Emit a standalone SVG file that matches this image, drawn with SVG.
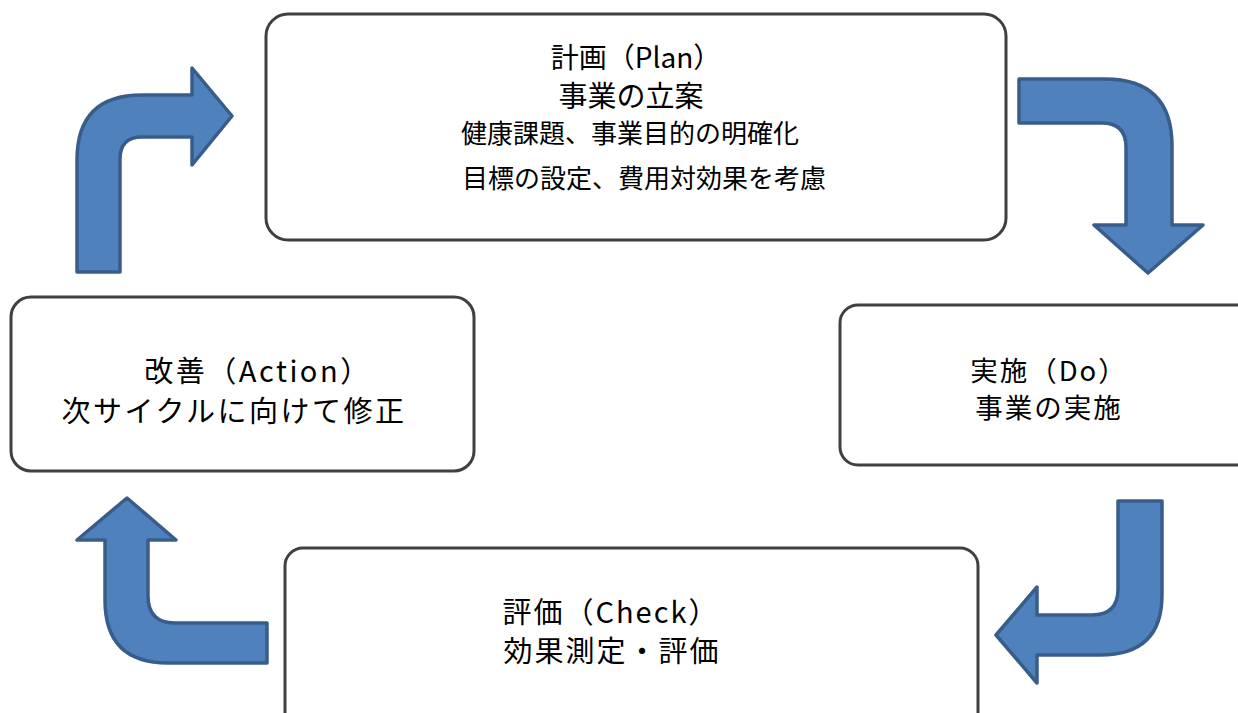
<svg xmlns="http://www.w3.org/2000/svg" width="1238" height="713" viewBox="0 0 1238 713">
<style>
.box{fill:#fff;stroke:#404040;stroke-width:3}
.arr{fill:#4F81BD;stroke:#385D8A;stroke-width:3.5;stroke-linejoin:round}
text{font-family:"Noto Sans CJK JP","Noto Sans",sans-serif;fill:#000;text-anchor:middle}
</style>
<rect width="1238" height="713" fill="#fff"/>
<g id="connectors">
<path class="arr" d="M77,272 L77,160 Q77,95 142,95 L192,95 L192,68 L232,116 L192,165 L192,137 L142,137 Q120,137 120,159 L120,272 Z"/>
<path class="arr" d="M1019,79 L1105,79 Q1172,79 1172,146 L1172,225 L1203,225 L1148,273 L1094,225 L1126,225 L1126,147 Q1126,123 1102,123 L1019,123 Z"/>
<path class="arr" d="M1118,501 L1162,501 L1162,595 Q1162,655 1100,655 L1037,655 L1037,683 L996,635 L1037,587 L1037,615 L1092,615 Q1118,615 1118,589 Z"/>
<path class="arr" d="M267,623 L175,623 Q148,623 148,596 L148,540 L176,540 L127,498 L77,540 L105,540 L105,600 Q105,663 168,663 L267,663 Z"/>
</g>
<g id="plan">
<rect class="box" x="266" y="14" width="740" height="226" rx="22"/>
<text x="636" y="68" font-size="28">計画（Plan）</text>
<text x="631" y="107" font-size="29">事業の立案</text>
<text x="630" y="143" font-size="26">健康課題、事業目的の明確化</text>
<text x="644" y="188" font-size="26">目標の設定、費用対効果を考慮</text>
</g>
<g id="do">
<rect class="box" x="840" y="305" width="420" height="160" rx="18"/>
<text font-size="27.5" letter-spacing="2"><tspan x="1049" y="381">実施（Do）</tspan><tspan x="1049" y="418">事業の実施</tspan></text>
</g>
<g id="check">
<rect class="box" x="285" y="548" width="693" height="190" rx="18"/>
<text font-size="29" letter-spacing="2"><tspan x="611" y="623">評価（Check）</tspan><tspan x="612" y="662">効果測定・評価</tspan></text>
</g>
<g id="action">
<rect class="box" x="11" y="297" width="463" height="174" rx="20"/>
<text font-size="29" letter-spacing="2.5"><tspan x="258" y="382">改善（Action）</tspan><tspan x="234" y="421.5">次サイクルに向けて修正</tspan></text>
</g>
</svg>
